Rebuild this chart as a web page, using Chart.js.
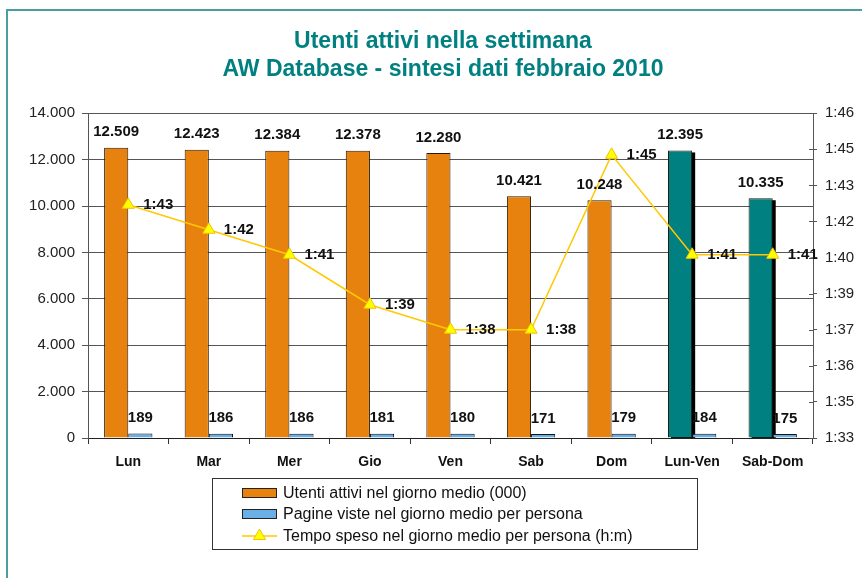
<!DOCTYPE html>
<html><head><meta charset="utf-8">
<script src="https://cdn.jsdelivr.net/npm/chart.js@4.4.1/dist/chart.umd.min.js"></script>
<style>html,body{margin:0;padding:0;background:#fff}canvas{display:block}</style>
</head><body>
<canvas id="c" width="862" height="578"></canvas>
<script>
const categories = ['Lun','Mar','Mer','Gio','Ven','Sab','Dom','Lun-Ven','Sab-Dom'];
const utentiAttivi = [12509,12423,12384,12378,12280,10421,10248,12395,10335];
const pagineViste = [189,186,186,181,180,171,179,184,175];
const tempoSpesoMin = [43,42,41,39,38,38,45,41,41]; // minutes past 1 hour
const leftTickLabels = ['0','2.000','4.000','6.000','8.000','10.000','12.000','14.000'];
const rightTickLabels = ['1:33','1:35','1:36','1:37','1:39','1:40','1:42','1:43','1:45','1:46'];
const titleLines = ['Utenti attivi nella settimana','AW Database - sintesi dati febbraio 2010'];
const seriesNames = ['Utenti attivi nel giorno medio (000)','Pagine viste nel giorno medio per persona','Tempo speso nel giorno medio per persona (h:m)'];
const RIGHT_MIN = 33 + 40/60, RIGHT_MAX = 46 + 40/60;

const F = "'Liberation Sans', Arial, sans-serif";
const ORANGE = '#E8820F', TEAL = '#008080', BLUE = '#6AAFE6';
const LINE = '#FFC800', MARK = '#FFFF00', MARKB = '#F2C200';
const isSummary = i => categories[i].includes('-');
const fmt = n => String(n).replace(/\B(?=(\d{3})+(?!\d))/g, '.');
const fmtTime = m => '1:' + String(Math.round(m)).padStart(2,'0');

const framePlugin = {
  id:'frame',
  beforeDraw(chart){
    const c = chart.ctx; c.save();
    c.fillStyle = '#fff'; c.fillRect(0,0,chart.width,chart.height);
    c.strokeStyle = '#4a9f9c'; c.lineWidth = 2;
    c.beginPath(); c.moveTo(7, chart.height); c.lineTo(7, 10); c.lineTo(chart.width, 10); c.stroke();
    c.restore();
  }
};

const shadowPlugin = {
  id:'shadow',
  beforeDatasetsDraw(chart){
    const meta = chart.getDatasetMeta(0), c = chart.ctx, a = chart.chartArea;
    c.save(); c.beginPath(); c.rect(a.left, a.top, a.right-a.left, a.bottom-a.top); c.clip();
    c.fillStyle = '#000';
    meta.data.forEach((bar, i) => {
      if (!isSummary(i)) return;
      const p = bar.getProps(['x','y','base','width'], true);
      c.fillRect(p.x - p.width/2 + 3, p.y + 2, p.width, p.base - p.y);
    });
    c.restore();
  }
};

const labelsPlugin = {
  id:'vlabels',
  afterDatasetsDraw(chart){
    const c = chart.ctx; c.save();
    c.font = 'bold 15px ' + F; c.fillStyle = '#111'; c.textBaseline = 'middle';
    [0,1].forEach(di => {
      const meta = chart.getDatasetMeta(di);
      c.textAlign = 'center';
      meta.data.forEach((bar, i) => {
        const p = bar.getProps(['x','y'], true);
        c.fillText(fmt(chart.data.datasets[di].data[i]), p.x, p.y - 15.5);
      });
    });
    const lm = chart.getDatasetMeta(2);
    c.textAlign = 'left';
    lm.data.forEach((pt, i) => {
      const p = pt.getProps(['x','y'], true);
      c.fillText(fmtTime(chart.data.datasets[2].data[i]), p.x + 15, p.y);
    });
    c.restore();
  }
};

function tri(c, cx, cy, r){
  const h = r*Math.sqrt(3)/2;
  c.beginPath(); c.moveTo(cx, cy - r); c.lineTo(cx - h, cy + r/2); c.lineTo(cx + h, cy + r/2); c.closePath();
}

const extrasPlugin = {
  id:'extras',
  afterDraw(chart){
    const c = chart.ctx; c.save();
    const s = chart.scales.y1;
    c.strokeStyle = '#555'; c.lineWidth = 1;
    s.ticks.forEach((t, i) => {
      const y = Math.round(s.getPixelForTick(i)) + 0.5;
      c.beginPath(); c.moveTo(s.left - 4, y); c.lineTo(s.left, y); c.stroke();
    });
    const bx = 212.5, by = 478.5, bw = 485, bh = 71;
    c.strokeStyle = '#333'; c.lineWidth = 1; c.strokeRect(bx, by, bw, bh);
    const rows = [493, 514, 536];
    c.font = '16px ' + F; c.textBaseline = 'middle'; c.textAlign = 'left'; c.fillStyle = '#111';
    chart.data.datasets.forEach((ds, i) => {
      const y = rows[i];
      if (ds.type === 'line') {
        c.strokeStyle = ds.borderColor; c.lineWidth = 1.5;
        c.beginPath(); c.moveTo(242, y); c.lineTo(277, y); c.stroke();
        tri(c, 259.5, y, 7); c.fillStyle = ds.pointBackgroundColor; c.fill();
        c.strokeStyle = ds.pointBorderColor; c.lineWidth = 1; c.stroke();
      } else {
        c.fillStyle = Array.isArray(ds.backgroundColor) ? ds.backgroundColor[0] : ds.backgroundColor;
        c.fillRect(242, y - 5, 35, 10);
        c.strokeStyle = '#222'; c.lineWidth = 1; c.strokeRect(242.5, y - 4.5, 34, 9);
      }
      c.fillStyle = '#111';
      c.fillText(ds.label, 283, y + 1);
    });
    c.restore();
  }
};

new Chart(document.getElementById('c'), {
  type:'bar',
  data:{
    labels: categories,
    datasets:[
      {type:'bar', label:seriesNames[0], data:utentiAttivi, yAxisID:'y',
       backgroundColor: categories.map((_, i) => isSummary(i) ? TEAL : ORANGE),
       borderColor:'#2a1a08', borderWidth:1, categoryPercentage:0.6, barPercentage:1, order:1},
      {type:'bar', label:seriesNames[1], data:pagineViste, yAxisID:'y',
       backgroundColor: BLUE, borderColor:'#111', borderWidth:1, categoryPercentage:0.6, barPercentage:1, order:1},
      {type:'line', label:seriesNames[2], data:tempoSpesoMin, yAxisID:'y1',
       borderColor: LINE, borderWidth:1.5, pointStyle:'triangle', pointRadius:7,
       pointBackgroundColor: MARK, pointBorderColor: MARKB, pointBorderWidth:1, tension:0, order:0}
    ]
  },
  options:{
    responsive:false, animation:false, devicePixelRatio:1,
    layout:{padding:{left:24, right:0, top:0, bottom:100}},
    plugins:{
      legend:{display:false}, tooltip:{enabled:false},
      title:{display:true, text:titleLines, color:'#008080',
        font:{family:F, size:23, weight:'bold', lineHeight:1.2}, padding:{top:28, bottom:30}}
    },
    scales:{
      x:{
        grid:{offset:true, drawOnChartArea:false, drawTicks:true, tickLength:6, color:'#333'},
        border:{color:'#222', width:1},
        ticks:{color:'#111', font:{family:F, size:14, weight:'bold'}, padding:10, maxRotation:0, autoSkip:false},
        afterFit(s){ s.height = 40; }
      },
      y:{
        position:'left', min:0, max:14000,
        grid:{color:'#555', tickLength:6, drawTicks:true},
        border:{color:'#555'},
        ticks:{stepSize:2000, padding:7, color:'#222', font:{family:F, size:15}, callback:(v, i) => leftTickLabels[i]},
        afterFit(s){ s.width = 64; }
      },
      y1:{
        position:'right', min:RIGHT_MIN, max:RIGHT_MAX,
        grid:{drawOnChartArea:false, drawTicks:true, tickLength:4, color:'#555'},
        border:{color:'#555'},
        afterBuildTicks(s){
          s.ticks = rightTickLabels.map((_, i) => ({value: RIGHT_MIN + i*(RIGHT_MAX-RIGHT_MIN)/(rightTickLabels.length-1)}));
        },
        ticks:{padding:8, color:'#222', font:{family:F, size:15}, callback:(v, i) => rightTickLabels[i]},
        afterFit(s){ s.width = 49; }
      }
    }
  },
  plugins:[framePlugin, shadowPlugin, labelsPlugin, extrasPlugin]
});
</script>
</body></html>
